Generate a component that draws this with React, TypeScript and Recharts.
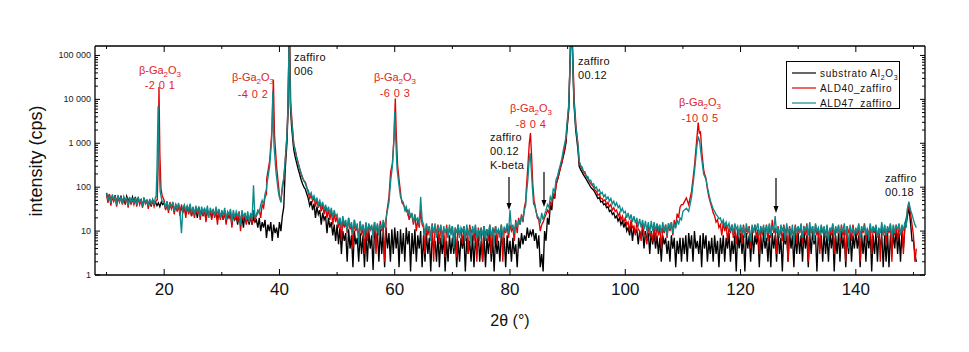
import React from 'react';
import { LineChart, Line, XAxis, YAxis } from 'recharts';

const W = 969;
const H = 352;
const FONT = '"Liberation Sans", Arial, sans-serif';
const RED_TXT = '#e2231a';

// axis ticks
const X_MAJOR = [20, 40, 60, 80, 100, 120, 140];
const X_MINOR = [10, 30, 50, 70, 90, 110, 130, 150];
const Y_MAJOR = [1, 10, 100, 1000, 10000, 100000];
const Y_MULT = [2, 3, 4, 5, 6, 7, 8, 9];

// scans read every 0.25 deg from 10.00 to 150.50 (2theta), one row = 5 deg
const GRID_START = 10;
const GRID_STEP = 0.25;

const blackGrid = [
  74, 52, 68, 46, 62, 50, 66, 42, 60, 48, 64, 44, 58, 40, 62, 50, 56, 44, 60, 46, // 10
  60, 42, 56, 46, 52, 38, 54, 44, 50, 40, 48, 36, 52, 42, 46, 38, 44, 36, 46, 40, // 15
  44, 32, 46, 30, 40, 34, 42, 28, 38, 30, 40, 26, 36, 28, 38, 24, 36, 28, 34, 22, // 20
  34, 24, 32, 20, 34, 26, 30, 22, 32, 18, 30, 24, 28, 20, 30, 22, 26, 18, 28, 20, // 25
  26, 18, 28, 16, 24, 20, 26, 14, 24, 18, 22, 14, 26, 16, 22, 12, 24, 16, 20, 14, // 30
  22, 14, 20, 16, 18, 12, 20, 10, 16, 12, 18, 7, 14, 10, 16, 6, 14, 9, 12, 7, // 35
  16, 10, 22, 35, 300, 1000, 9000, 9000, 3000, 1200, 700, 480, 350, 260, 200, 150, 120, 100, 90, 70, // 40
  55, 38, 48, 30, 42, 20, 36, 24, 30, 14, 26, 18, 22, 9, 20, 12, 16, 8, 14, 6, // 45
  14, 5, 12, 3, 10, 6, 9, 2, 11, 4, 8, 1.5, 10, 5, 7, 2, 9, 3, 8, 1.5, // 50
  9, 2, 10, 4, 8, 1.3, 12, 5, 9, 2, 11, 3, 10, 1.5, 12, 4, 9, 2, 11, 3, // 55
  12, 4, 10, 1.5, 11, 3, 9, 2, 12, 5, 10, 1.2, 9, 3, 11, 2, 8, 4, 10, 1.5, // 60
  8, 2, 9, 3, 7, 1.2, 8, 4, 6, 2, 9, 1.5, 7, 3, 8, 1.2, 6, 2, 8, 3, // 65
  7, 3, 8, 1.5, 6, 2, 7, 4, 8, 1.2, 7, 3, 6, 2, 8, 1.5, 7, 3, 9, 2, // 70
  6, 2, 8, 1.5, 7, 3, 9, 2, 7, 1.2, 8, 3, 6, 2, 9, 4, 7, 1.5, 8, 3, // 75
  6, 2, 7, 3, 5, 1.5, 7, 4, 9, 5, 8, 6, 12, 7, 10, 8, 11, 6, 9, 4, // 80
  8, 1.5, 3, 1.2, 10, 6, 20, 14, 40, 30, 70, 55, 120, 150, 200, 280, 380, 500, 700, 1100, // 85
  9000, 99000, 99000, 9000, 5000, 3000, 2000, 1000, 300, 250, 220, 190, 170, 150, 130, 115, 100, 92, 85, 75, // 90
  65, 55, 58, 46, 48, 40, 42, 34, 36, 28, 30, 24, 26, 20, 22, 17, 20, 14, 17, 12, // 95
  16, 10, 12, 8, 14, 6, 12, 9, 11, 5, 10, 7, 11, 4, 10, 6, 9, 3, 10, 5, // 100
  9, 4, 8, 3, 7, 2, 8, 5, 7, 3, 6, 2, 8, 4, 7, 1.5, 6, 3, 7, 2, // 105
  7, 3, 8, 2, 9, 4, 8, 2, 10, 4, 6, 3, 8, 1.5, 9, 4, 8, 2, 6, 3, // 110
  7, 2, 8, 3, 6, 1.5, 7, 3, 8, 2, 7, 4, 9, 2, 6, 3, 8, 1.2, 9, 4, // 115
  9, 3, 8, 1.2, 9, 4, 8, 2, 10, 3, 8, 5, 9, 1.5, 8, 3, 10, 4, 7, 2, // 120
  8, 1.5, 9, 4, 8, 2, 10, 3, 7, 1.2, 9, 5, 8, 2, 10, 4, 8, 1.5, 9, 3, // 125
  9, 3, 8, 2, 10, 4, 8, 1.5, 9, 3, 10, 5, 8, 1.2, 9, 4, 8, 2, 10, 3, // 130
  8, 2, 10, 4, 9, 1.2, 8, 3, 9, 2, 10, 4, 8, 1.5, 9, 3, 10, 2, 8, 4, // 135
  10, 4, 8, 1.5, 9, 3, 8, 2, 10, 4, 9, 1.2, 8, 3, 10, 2, 9, 4, 8, 1.5, // 140
  8, 2, 9, 1.5, 8, 3, 9, 4, 12, 3, 9, 2, 10, 4, 12, 15, 20, 35, 15, 6, // 145
  6, 3, 2, // 150
];

const redGrid = [
  66, 44, 70, 38, 60, 48, 64, 36, 58, 46, 62, 40, 54, 44, 60, 34, 56, 42, 52, 40, // 10
  54, 36, 58, 40, 50, 34, 56, 42, 48, 32, 52, 38, 50, 36, 46, 52, 60, 70, 80, 60, // 15
  50, 30, 44, 26, 46, 32, 40, 24, 42, 28, 38, 22, 40, 26, 36, 20, 38, 24, 34, 22, // 20
  34, 20, 32, 24, 36, 18, 30, 22, 34, 16, 30, 24, 28, 18, 32, 20, 28, 14, 30, 18, // 25
  28, 18, 30, 14, 26, 20, 28, 12, 26, 18, 24, 16, 28, 10, 24, 18, 26, 14, 22, 16, // 30
  24, 14, 30, 18, 22, 26, 30, 20, 40, 34, 60, 70, 200, 200, 300, 300, 300, 300, 200, 120, // 35
  60, 50, 90, 150, 400, 1000, 9000, 9000, 3000, 1500, 950, 700, 480, 360, 270, 200, 160, 140, 130, 100, // 40
  75, 55, 66, 48, 60, 36, 52, 34, 45, 28, 40, 24, 36, 20, 32, 18, 30, 14, 26, 16, // 45
  22, 12, 20, 6, 18, 12, 16, 9, 20, 11, 14, 4, 18, 10, 13, 7, 16, 8, 14, 3, // 50
  15, 6, 14, 10, 13, 9, 16, 3, 14, 8, 17, 10, 15, 2, 16, 12, 20, 25, 40, 60, // 55
  60, 60, 60, 60, 60, 45, 40, 35, 28, 30, 18, 24, 22, 14, 24, 10, 18, 12, 30, 14, // 60
  12, 3, 14, 8, 13, 6, 15, 2, 12, 9, 14, 5, 13, 8, 11, 2.5, 14, 7, 12, 9, // 65
  13, 6, 12, 2.5, 14, 8, 11, 5, 13, 7, 12, 3, 14, 9, 11, 6, 13, 2, 12, 8, // 70
  12, 2, 13, 8, 11, 6, 14, 3, 12, 9, 13, 5, 11, 8, 14, 2, 12, 9, 13, 7, // 75
  14, 10, 12, 6, 18, 9, 20, 14, 24, 16, 35, 50, 300, 300, 300, 300, 300, 45, 30, 20, // 80
  18, 10, 14, 16, 20, 24, 30, 26, 45, 40, 70, 60, 110, 150, 200, 280, 350, 550, 800, 1300, // 85
  9000, 99000, 99000, 9000, 5000, 3000, 2000, 1000, 380, 300, 260, 225, 200, 175, 160, 135, 120, 110, 100, 85, // 90
  80, 65, 70, 55, 55, 48, 52, 40, 45, 36, 40, 30, 34, 28, 30, 22, 26, 18, 22, 16, // 95
  20, 14, 16, 10, 18, 12, 13, 8, 16, 11, 10, 6, 15, 9, 8, 5, 14, 8, 9, 6, // 100
  13, 6, 14, 8, 12, 4, 12, 9, 14, 7, 15, 10, 16, 8, 18, 12, 25, 20, 35, 40, // 105
  40, 45, 50, 50, 40, 60, 80, 150, 300, 600, 2000, 2500, 1700, 800, 1000, 200, 160, 90, 60, 45, // 110
  35, 26, 22, 16, 18, 12, 14, 8, 16, 10, 14, 6, 12, 9, 14, 7, 12, 5, 11, 9, // 115
  12, 5, 14, 8, 11, 9, 13, 4, 12, 10, 14, 7, 11, 3, 13, 8, 12, 9, 14, 6, // 120
  14, 7, 18, 9, 12, 3, 13, 8, 11, 6, 14, 9, 12, 2, 13, 8, 11, 7, 14, 5, // 125
  12, 9, 14, 5, 13, 8, 15, 2, 12, 9, 13, 6, 14, 8, 11, 3, 13, 9, 12, 7, // 130
  13, 7, 11, 8, 14, 3, 12, 9, 13, 6, 14, 8, 11, 2, 13, 9, 12, 6, 14, 8, // 135
  11, 8, 14, 2, 12, 9, 15, 6, 11, 8, 14, 3, 12, 9, 13, 7, 11, 2, 14, 8, // 140
  13, 5, 12, 9, 14, 2, 13, 8, 14, 6, 12, 9, 13, 3, 14, 20, 25, 40, 25, 14, // 145
  8, 2, 4, // 150
];

const tealGrid = [
  72, 50, 64, 44, 68, 52, 60, 40, 66, 48, 58, 42, 62, 50, 56, 38, 60, 46, 54, 44, // 10
  58, 40, 56, 46, 52, 36, 58, 44, 50, 38, 54, 42, 52, 40, 60, 70, 60, 60, 55, 48, // 15
  44, 34, 48, 30, 42, 36, 46, 28, 40, 32, 44, 26, 9, 34, 40, 28, 38, 30, 42, 26, // 20
  36, 24, 38, 28, 34, 22, 36, 26, 32, 24, 38, 20, 34, 26, 30, 22, 36, 24, 32, 20, // 25
  30, 22, 34, 18, 28, 24, 32, 16, 30, 20, 28, 22, 26, 14, 30, 20, 26, 18, 28, 16, // 30
  26, 18, 110, 20, 24, 30, 26, 40, 50, 40, 70, 90, 130, 160, 200, 250, 300, 250, 180, 120, // 35
  60, 45, 110, 160, 400, 1000, 9000, 9000, 3000, 1500, 900, 650, 450, 340, 260, 210, 170, 140, 120, 95, // 40
  85, 65, 75, 55, 64, 45, 58, 40, 50, 36, 46, 30, 40, 28, 36, 24, 34, 20, 30, 22, // 45
  24, 15, 20, 12, 22, 14, 18, 10, 20, 12, 16, 9, 18, 11, 15, 5, 17, 10, 14, 8, // 50
  16, 9, 15, 11, 14, 7, 16, 10, 15, 8, 14, 11, 18, 12, 16, 14, 20, 22, 26, 30, // 55
  50, 45, 40, 38, 35, 50, 45, 30, 36, 24, 30, 20, 26, 16, 22, 18, 20, 14, 60, 18, // 60
  14, 8, 15, 10, 13, 6, 14, 9, 15, 7, 12, 10, 14, 5, 13, 9, 12, 7, 14, 8, // 65
  13, 4, 12, 9, 14, 7, 12, 10, 13, 6, 14, 8, 12, 5, 13, 9, 14, 7, 11, 6, // 70
  12, 8, 13, 6, 11, 9, 14, 7, 12, 5, 13, 9, 11, 7, 14, 8, 12, 10, 15, 9, // 75
  30, 11, 14, 9, 16, 12, 18, 14, 22, 18, 30, 40, 60, 150, 450, 250, 90, 40, 28, 22, // 80
  20, 15, 26, 18, 24, 30, 40, 35, 60, 50, 90, 80, 150, 180, 250, 330, 450, 700, 1000, 1500, // 85
  9000, 99000, 99000, 9000, 5000, 3000, 2000, 1200, 400, 310, 290, 230, 225, 175, 175, 140, 145, 115, 120, 95, // 90
  100, 80, 88, 70, 76, 60, 68, 54, 60, 48, 55, 42, 48, 38, 44, 34, 38, 28, 33, 26, // 95
  28, 20, 26, 18, 24, 16, 22, 15, 20, 13, 19, 12, 18, 11, 17, 10, 16, 9, 17, 10, // 100
  16, 10, 15, 11, 14, 9, 16, 10, 14, 8, 15, 11, 16, 9, 14, 12, 18, 14, 20, 18, // 105
  28, 24, 30, 33, 30, 40, 60, 100, 200, 400, 1000, 900, 500, 300, 200, 180, 150, 100, 70, 50, // 110
  40, 32, 28, 24, 22, 19, 20, 15, 18, 13, 16, 12, 15, 10, 14, 9, 15, 11, 13, 8, // 115
  14, 9, 13, 7, 15, 10, 12, 6, 14, 9, 13, 11, 15, 8, 12, 10, 14, 6, 13, 9, // 120
  15, 8, 13, 10, 22, 9, 12, 7, 14, 10, 13, 6, 15, 9, 12, 8, 14, 5, 13, 10, // 125
  13, 9, 15, 7, 12, 10, 14, 8, 16, 9, 13, 6, 15, 10, 12, 8, 14, 9, 13, 7, // 130
  14, 6, 12, 10, 15, 8, 13, 9, 14, 7, 12, 10, 15, 8, 13, 4, 14, 9, 12, 8, // 135
  12, 9, 15, 7, 13, 10, 14, 8, 12, 6, 15, 9, 13, 10, 14, 7, 12, 9, 16, 8, // 140
  14, 8, 13, 10, 15, 7, 14, 9, 13, 11, 15, 8, 14, 10, 16, 12, 20, 30, 40, 24, // 145
  18, 14, 12, // 150
];

// peak profiles [2theta, cps]; inside each span they replace the grid readings
const blackPeaks = [
  [[41.0, 250], [41.3, 1000], [41.5, 6000], [41.65, 170000], [41.75, 170000], [41.9, 7000], [42.1, 2500], [42.4, 900]],
  [[89.8, 1500], [90.2, 6000], [90.5, 170000], [90.8, 170000], [91.1, 8000], [91.4, 2000], [91.8, 700]],
  [[148.9, 20], [149.2, 35], [149.5, 15]],
];

const redPeaks = [
  [[18.8, 50], [18.95, 300], [19.1, 19000], [19.25, 600], [19.45, 90], [19.7, 60]],
  [[37.8, 160], [38.3, 400], [38.7, 2000], [38.95, 28000], [39.15, 1500], [39.5, 300], [39.9, 90]],
  [[41.0, 400], [41.3, 1500], [41.5, 8000], [41.65, 170000], [41.8, 170000], [41.95, 9000], [42.15, 3500], [42.4, 1300]],
  [[58.6, 25], [59.0, 60], [59.3, 225], [59.6, 350], [59.9, 1500], [60.1, 10500], [60.25, 2000], [60.5, 320], [60.8, 130], [61.1, 60]],
  [[82.8, 80], [83.1, 300], [83.35, 1000], [83.55, 1700], [83.75, 500], [83.95, 120], [84.2, 45]],
  [[89.8, 1800], [90.2, 7000], [90.5, 170000], [90.85, 170000], [91.15, 9000], [91.45, 2500], [91.8, 900]],
  [[110.2, 45], [110.6, 57], [111.0, 40], [111.5, 80], [112.0, 300], [112.4, 1200], [112.65, 2950], [112.85, 1700], [113.05, 1800], [113.3, 600], [113.6, 250]],
  [[148.9, 25], [149.2, 40], [149.5, 25]],
];

const tealPeaks = [
  [[18.6, 60], [18.75, 250], [18.95, 7000], [19.1, 400], [19.3, 80], [19.6, 50]],
  [[37.8, 110], [38.3, 300], [38.65, 1200], [38.85, 15000], [39.05, 900], [39.4, 220], [39.8, 80]],
  [[41.0, 400], [41.3, 1500], [41.5, 8000], [41.65, 170000], [41.75, 170000], [41.9, 9000], [42.1, 3500], [42.4, 1300]],
  [[58.5, 20], [59.0, 45], [59.3, 140], [59.6, 300], [59.85, 1200], [60.0, 5300], [60.15, 1500], [60.4, 260], [60.7, 120], [61.0, 60]],
  [[82.8, 60], [83.1, 150], [83.35, 450], [83.5, 600], [83.7, 250], [83.9, 90], [84.1, 40]],
  [[89.8, 2000], [90.2, 8000], [90.5, 170000], [90.8, 170000], [91.1, 9000], [91.4, 2500], [91.8, 900]],
  [[110.2, 30], [110.6, 33], [111.0, 28], [111.5, 60], [112.0, 220], [112.4, 800], [112.65, 1430], [112.9, 1100], [113.2, 500], [113.6, 200]],
  [[148.9, 30], [149.2, 47], [149.5, 30]],
];

type Pt = { t: number; v: number };

function buildSeries(grid: number[], peaks: number[][][]): Pt[] {
  const pts: Pt[] = [];
  grid.forEach((v, i) => {
    const t = GRID_START + i * GRID_STEP;
    const covered = peaks.some((c) => t >= c[0][0] && t <= c[c.length - 1][0]);
    if (!covered) pts.push({ t, v });
  });
  peaks.forEach((c) => c.forEach(([t, v]) => pts.push({ t, v })));
  return pts.sort((a, b) => a.t - b.t);
}

const blackData = buildSeries(blackGrid, blackPeaks);
const redData = buildSeries(redGrid, redPeaks);
const tealData = buildSeries(tealGrid, tealPeaks);

const X_TICKS = [...X_MAJOR, ...X_MINOR].sort((a, b) => a - b);
const Y_TICKS = [
  ...Y_MAJOR,
  ...Y_MAJOR.flatMap((d) => Y_MULT.map((m) => m * d)).filter((v) => v < 164000),
].sort((a, b) => a - b);

const fmtY = (v: number) => String(v).replace(/\B(?=(\d{3})+(?!\d))/g, ' ');

function BottomTick({ x, y, payload }: any) {
  const major = X_MAJOR.includes(payload.value);
  return (
    <g>
      <line x1={x} x2={x} y1={y} y2={y - (major ? 6 : 3)} stroke="#000" />
      {major && (
        <text x={x} y={y + 20} textAnchor="middle" fontSize={17} fontFamily={FONT} fill="#111">
          {payload.value}
        </text>
      )}
    </g>
  );
}

function TopTick({ x, y, payload }: any) {
  const major = X_MAJOR.includes(payload.value);
  return <line x1={x} x2={x} y1={y} y2={y + (major ? 6 : 3)} stroke="#000" />;
}

function LeftTick({ x, y, payload }: any) {
  const major = Y_MAJOR.includes(payload.value);
  return (
    <g>
      <line x1={x} x2={x + (major ? 5 : 3)} y1={y} y2={y} stroke="#000" />
      {major && (
        <text x={x - 4} y={y + 3} textAnchor="end" fontSize={9} fontFamily={FONT} fill="#222">
          {fmtY(payload.value)}
        </text>
      )}
    </g>
  );
}

function RightTick({ x, y, payload }: any) {
  const major = Y_MAJOR.includes(payload.value);
  return <line x1={x} x2={x - (major ? 5 : 3)} y1={y} y2={y} stroke="#000" />;
}

function Ga2O3({ x, y, hkl, dy }: { x: number; y: number; hkl: string; dy: number }) {
  return (
    <g fontFamily={FONT} fontSize={11} fill={RED_TXT} textAnchor="middle">
      <text x={x} y={y}>
        β-Ga<tspan dy={3} fontSize={8}>2</tspan>
        <tspan dy={-3}>O</tspan>
        <tspan dy={3} fontSize={8}>3</tspan>
      </text>
      <text x={x} y={y + dy} letterSpacing={0.4}>{hkl}</text>
    </g>
  );
}

function Arrow({ x, y1, y2 }: { x: number; y1: number; y2: number }) {
  return (
    <g>
      <line x1={x} x2={x} y1={y1} y2={y2 - 5} stroke="#000" strokeWidth={1.2} />
      <polygon points={`${x},${y2} ${x - 2.5},${y2 - 7} ${x + 2.5},${y2 - 7}`} fill="#000" />
    </g>
  );
}

function BlackLabel({ x, y, lines }: { x: number; y: number; lines: string[] }) {
  return (
    <g fontFamily={FONT} fontSize={11} fill="#111" letterSpacing={0.3}>
      {lines.map((l, i) => (
        <text key={l + i} x={x} y={y + i * 14}>{l}</text>
      ))}
    </g>
  );
}

const LEGEND = [
  { name: 'substrato', color: '#000000' },
  { name: 'ALD40_zaffiro', color: '#e00000' },
  { name: 'ALD47_zaffiro', color: '#0a8a8a' },
];

function Overlay() {
  return (
    <svg width={W} height={H} style={{ position: 'absolute', left: 0, top: 0, pointerEvents: 'none' }}>
      {/* axis titles */}
      <text
        x={42}
        y={161}
        transform="rotate(-90 42 161)"
        textAnchor="middle"
        fontSize={18}
        fontFamily={FONT}
        fill="#111"
      >
        intensity (cps)
      </text>
      <text x={510} y={326} textAnchor="middle" fontSize={16} fontFamily={FONT} fill="#111">
        2θ (°)
      </text>

      {/* peak annotations */}
      <Ga2O3 x={160} y={74} hkl="-2 0 1" dy={15} />
      <Ga2O3 x={253} y={81} hkl="-4 0 2" dy={17} />
      <Ga2O3 x={395} y={81} hkl="-6 0 3" dy={16} />
      <Ga2O3 x={531} y={112} hkl="-8 0 4" dy={16} />
      <Ga2O3 x={700} y={106} hkl="-10 0 5" dy={16} />

      <BlackLabel x={294} y={61} lines={['zaffiro', '006']} />
      <BlackLabel x={578} y={65} lines={['zaffiro', '00.12']} />
      <BlackLabel x={490} y={141} lines={['zaffiro', '00.12', 'K-beta']} />
      <BlackLabel x={885} y={182} lines={['zaffiro', '00.18']} />

      <Arrow x={509} y1={177} y2={210} />
      <Arrow x={544} y1={172} y2={207} />
      <Arrow x={776} y1={178} y2={213} />

      {/* legend */}
      <rect x={786.5} y={61.5} width={113} height={47} fill="#fff" stroke="#000" strokeWidth={1} />
      {LEGEND.map((s, i) => (
        <g key={s.name}>
          <line x1={792} x2={816} y1={73 + i * 15} y2={73 + i * 15} stroke={s.color} strokeWidth={1.2} />
          <text x={820} y={77 + i * 15} fontSize={10} fontFamily={FONT} fill="#111" letterSpacing={0.7}>
            {s.name}
            {i === 0 && (
              <>
                {' Al'}
                <tspan dy={3} fontSize={7}>2</tspan>
                <tspan dy={-3}>O</tspan>
                <tspan dy={3} fontSize={7}>3</tspan>
              </>
            )}
          </text>
        </g>
      ))}
    </svg>
  );
}

export default function App() {
  const axisLine = { stroke: '#000', strokeWidth: 1.3 };
  const lineW = 1.35;
  return (
    <div style={{ position: 'absolute', left: 0, top: 0, width: W, height: H, background: '#fff' }}>
      <LineChart width={W} height={H} margin={{ top: 45, right: 43, bottom: 76, left: 94 }}>
        <XAxis
          xAxisId="b"
          dataKey="t"
          type="number"
          domain={[8, 152]}
          allowDataOverflow
          ticks={X_TICKS}
          interval={0}
          height={1}
          tickSize={0}
          tickMargin={0}
          tickLine={false}
          axisLine={axisLine}
          tick={BottomTick}
        />
        <XAxis
          xAxisId="t"
          orientation="top"
          dataKey="t"
          type="number"
          domain={[8, 152]}
          allowDataOverflow
          ticks={X_TICKS}
          interval={0}
          height={1}
          tickSize={0}
          tickMargin={0}
          tickLine={false}
          axisLine={axisLine}
          tick={TopTick}
        />
        <YAxis
          yAxisId="l"
          dataKey="v"
          type="number"
          scale="log"
          domain={[1, 164000]}
          allowDataOverflow
          ticks={Y_TICKS}
          interval={0}
          width={1}
          tickSize={0}
          tickMargin={0}
          tickLine={false}
          axisLine={axisLine}
          tick={LeftTick}
        />
        <YAxis
          yAxisId="r"
          orientation="right"
          dataKey="v"
          type="number"
          scale="log"
          domain={[1, 164000]}
          allowDataOverflow
          ticks={Y_TICKS}
          interval={0}
          width={1}
          tickSize={0}
          tickMargin={0}
          tickLine={false}
          axisLine={axisLine}
          tick={RightTick}
        />
        <Line
          xAxisId="b"
          yAxisId="l"
          data={blackData}
          dataKey="v"
          type="linear"
          stroke="#000000"
          strokeWidth={lineW}
          dot={false}
          isAnimationActive={false}
        />
        <Line
          xAxisId="b"
          yAxisId="l"
          data={redData}
          dataKey="v"
          type="linear"
          stroke="#e00000"
          strokeWidth={lineW}
          dot={false}
          isAnimationActive={false}
        />
        <Line
          xAxisId="b"
          yAxisId="l"
          data={tealData}
          dataKey="v"
          type="linear"
          stroke="#0a8a8a"
          strokeWidth={lineW}
          dot={false}
          isAnimationActive={false}
        />
      </LineChart>
      <Overlay />
    </div>
  );
}
